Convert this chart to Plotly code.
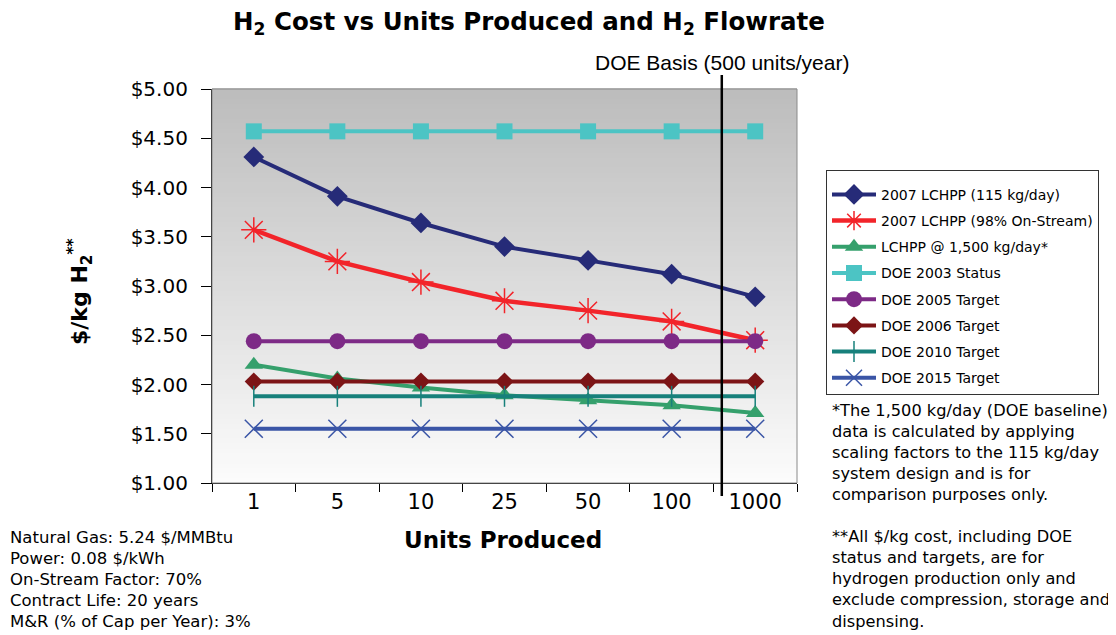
import plotly.graph_objects as go

units = ["1", "5", "10", "25", "50", "100", "1000"]

lchpp_115 = [4.31, 3.91, 3.64, 3.40, 3.26, 3.12, 2.89]
lchpp_98 = [3.57, 3.25, 3.04, 2.85, 2.75, 2.64, 2.45]
lchpp_1500 = [2.20, 2.06, 1.97, 1.89, 1.84, 1.79, 1.71]
doe_2003 = [4.57] * 7
doe_2005 = [2.44] * 7
doe_2006 = [2.03] * 7
doe_2010 = [1.88] * 7
doe_2015 = [1.55] * 7

series = [
    ("2007 LCHPP (115 kg/day)", lchpp_115, "#262B78", "diamond", 16, 0, 4),
    ("2007 LCHPP (98% On-Stream)", lchpp_98, "#F2242A", "asterisk-open", 21, 1.5, 4.5),
    ("LCHPP @ 1,500 kg/day*", lchpp_1500, "#35A06C", "triangle-up", 16, 0, 4),
    ("DOE 2003 Status", doe_2003, "#4CC4C4", "square", 16, 0, 4),
    ("DOE 2005 Target", doe_2005, "#7D2A86", "circle", 16, 0, 4),
    ("DOE 2006 Target", doe_2006, "#7C1416", "diamond", 14, 0, 4),
    ("DOE 2010 Target", doe_2010, "#17807B", "line-ns-open", 15, 1.5, 4),
    ("DOE 2015 Target", doe_2015, "#3A55A6", "x-thin-open", 18, 1.5, 4),
]

# page offset (browser body margin) and reference plot-area pixels
OFF = 8
W, H = 1116 - OFF, 635 - OFF
PX0, PX1, PY0, PY1 = 212, 797, 89, 483


def px(x):
    return (x - PX0) / (PX1 - PX0)


def py(y):
    return (PY1 - y) / (PY1 - PY0)


FONT = "DejaVu Sans, Liberation Sans, Arial"

fig = go.Figure()

# gradient plot background
n = 80
for i in range(n):
    t = i / (n - 1)
    g = int(252 - (252 - 189) * t)
    fig.add_shape(type="rect", xref="paper", yref="paper",
                  x0=0, x1=1, y0=i / n, y1=(i + 1) / n + 0.002,
                  fillcolor=f"rgb({g},{g},{g})", line_width=0, layer="below")

for i, (name, vals, col, sym, sz, lw, lnw) in enumerate(series):
    mk = dict(symbol=sym, size=sz, color=col)
    if lw:
        mk["line"] = dict(color=col, width=lw)
    fig.add_trace(go.Scatter(
        x=units, y=vals, name=name, mode="lines+markers",
        line=dict(color=col, width=lnw), marker=mk,
        legendgroup=f"g{i}",
    ))

# plot frame (top/right gray)
fig.add_shape(type="rect", xref="paper", yref="paper", x0=0, x1=1, y0=0, y1=1,
              line=dict(color="#8A8A8A", width=1), layer="above")

# DOE basis line
fig.add_shape(type="line", xref="x", yref="paper", x0=5.6, x1=5.6, y0=py(496), y1=py(75),
              line=dict(color="black", width=2.5))
fig.add_annotation(x=5.6, xref="x", y=py(63), yref="paper", yanchor="middle",
                   text="DOE Basis (500 units/year)", showarrow=False,
                   font=dict(family="Liberation Sans, Arial", size=21, color="black"))

fig.update_layout(
    width=W, height=H,
    margin=dict(l=PX0 - OFF, r=W - (PX1 - OFF), t=PY0 - OFF, b=H - (PY1 - OFF)),
    paper_bgcolor="white", plot_bgcolor="rgba(0,0,0,0)",
    font=dict(family=FONT, color="black"),
    showlegend=True,
    legend=dict(x=px(826), y=py(170), xanchor="left", yanchor="top",
                bordercolor="#333333", borderwidth=1, bgcolor="white",
                font=dict(size=14, family=FONT),
                title=dict(text=" ", font=dict(size=6)),
                traceorder="grouped", tracegroupgap=5, itemwidth=44),
    xaxis=dict(type="category", range=[-0.5, 6.5], tickson="boundaries",
               showline=True, linecolor="black", linewidth=1.2,
               ticks="outside", ticklen=8, tickcolor="black",
               tickfont=dict(size=21, family=FONT), showgrid=False, zeroline=False),
    yaxis=dict(range=[1, 5], dtick=0.5, tickformat="$.2f",
               showline=True, linecolor="black", linewidth=1.2,
               ticks="outside", ticklen=10, tickcolor="black", ticklabelstandoff=9,
               tickfont=dict(size=20, family=FONT), showgrid=False, zeroline=False),
)

# title
fig.add_annotation(xref="paper", yref="paper", x=px(529), y=py(23), yanchor="middle",
                   text="<b>H<sub>2</sub> Cost vs Units Produced and H<sub>2</sub> Flowrate</b>",
                   showarrow=False, font=dict(size=24.5, family=FONT))
# axis titles
fig.add_annotation(xref="paper", yref="paper", x=px(503), y=py(540), yanchor="middle",
                   text="<b>Units Produced</b>", showarrow=False,
                   font=dict(size=23, family=FONT))
fig.add_annotation(xref="paper", yref="paper", x=px(62), y=py(292), yanchor="middle",
                   text="<b>$/kg H<sub>2</sub><sup>**</sup></b>", textangle=-90,
                   showarrow=False, font=dict(size=22, family=FONT))

left_notes = [
    "Natural Gas: 5.24 $/MMBtu",
    "Power: 0.08 $/kWh",
    "On-Stream Factor: 70%",
    "Contract Life: 20 years",
    "M&R (% of Cap per Year): 3%",
]
for i, t in enumerate(left_notes):
    fig.add_annotation(xref="paper", yref="paper", x=px(8), xanchor="left",
                       y=py(537 + 21 * i), yanchor="middle", text=t,
                       showarrow=False, font=dict(size=16.5, family=FONT))

right_notes = [
    "*The 1,500 kg/day (DOE baseline)",
    "data is calculated by applying",
    "scaling factors to the 115 kg/day",
    "system design and is for",
    "comparison purposes only.",
    "",
    "**All $/kg cost, including DOE",
    "status and targets, are for",
    "hydrogen production only and",
    "exclude compression, storage and",
    "dispensing.",
]
for i, t in enumerate(right_notes):
    if not t:
        continue
    fig.add_annotation(xref="paper", yref="paper", x=px(830), xanchor="left",
                       y=py(410 + 21.1 * i), yanchor="middle", text=t,
                       showarrow=False, font=dict(size=16.2, family=FONT))

fig.write_html("out.html")
